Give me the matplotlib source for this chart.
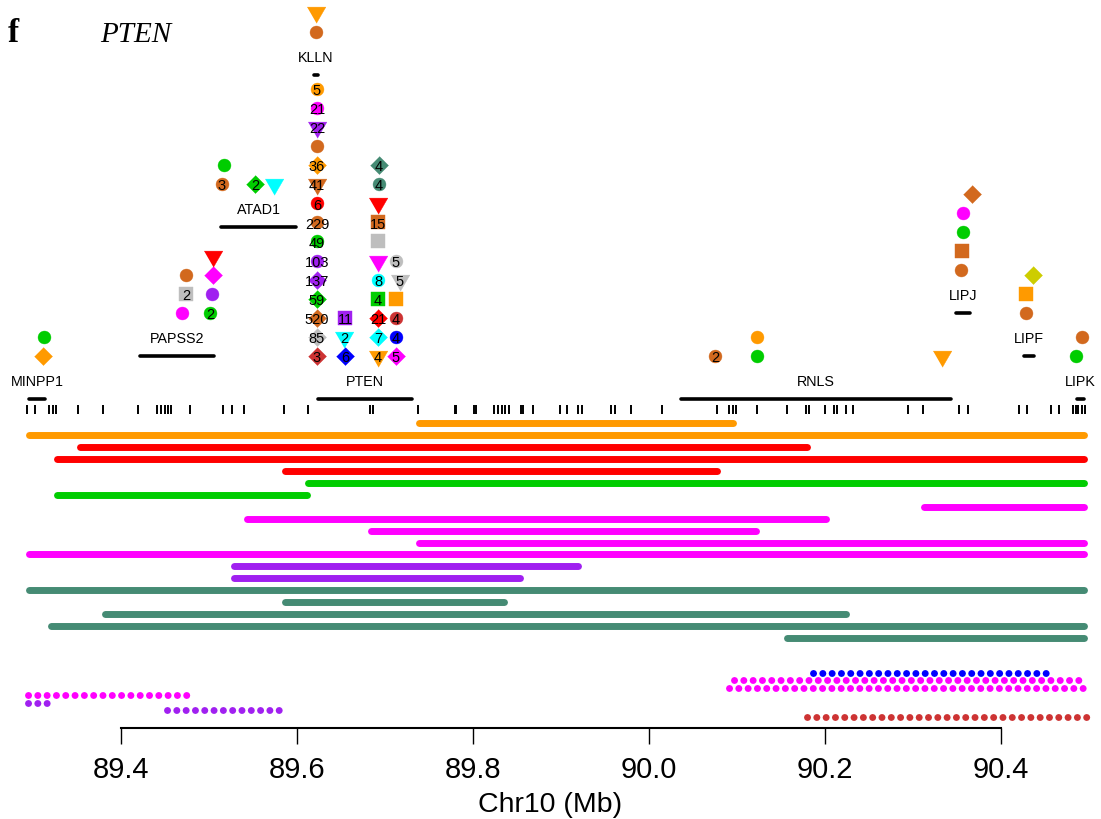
import matplotlib
matplotlib.use("Agg")
import matplotlib.pyplot as plt

plt.rcParams['font.family'] = ['Liberation Sans', 'DejaVu Sans']

# ---------------- data ----------------
gene_names = ["MINPP1", "PAPSS2", "ATAD1", "KLLN", "PTEN", "RNLS", "LIPJ", "LIPF", "LIPK"]
gene_start = [89.2951, 89.4213, 89.5134, 89.6195, 89.6236, 90.0361, 90.3486, 90.4259, 90.4861]
gene_end = [89.3139, 89.5060, 89.5991, 89.6235, 89.7310, 90.3435, 90.3650, 90.4378, 90.4946]

# markers: gene, position (Mb), stack level, colour, shape, count label
mk_gene = (["MINPP1"] * 2 + ["PAPSS2"] * 7 + ["ATAD1"] * 4 + ["KLLN"] * 2 +
           ["PTEN"] * 35 + ["RNLS"] * 4 + ["LIPJ"] * 5 + ["LIPF"] * 3 + ["LIPK"] * 2)
mk_pos = [89.3114, 89.3125,
          89.4693, 89.4739, 89.4739, 89.5011, 89.5034, 89.5045, 89.5045,
          89.5148, 89.5170, 89.5523, 89.5739,
          89.6216, 89.6216,
          89.6227, 89.6227, 89.6227, 89.6227, 89.6227, 89.6227, 89.6227, 89.6227,
          89.6227, 89.6227, 89.6227, 89.6227, 89.6227, 89.6227, 89.6227,
          89.6545, 89.6534, 89.6545,
          89.6920, 89.6920, 89.6920, 89.6920, 89.6920, 89.6920, 89.6920, 89.6920,
          89.6920, 89.6932, 89.6932,
          89.7125, 89.7125, 89.7125, 89.7125, 89.7170, 89.7125,
          90.0750, 90.1227, 90.1227, 90.3330,
          90.3545, 90.3557, 90.3568, 90.3568, 90.3670,
          90.4284, 90.4284, 90.4364,
          90.4852, 90.4920]
mk_level = [0, 1,
            0, 1, 2, 0, 1, 2, 3,
            0, 1, 0, 0,
            0, 1,
            0, 1, 2, 3, 4, 5, 6, 7, 8, 9, 10, 11, 12, 13, 14,
            0, 1, 2,
            0, 1, 2, 3, 4, 5, 6, 7, 8, 9, 10,
            0, 1, 2, 3, 4, 5,
            0, 0, 1, 0,
            0, 1, 2, 3, 4,
            0, 1, 2,
            0, 1]
mk_color = ["orange", "green",
            "magenta", "gray", "chocolate", "green", "purple", "magenta", "red",
            "chocolate", "green", "green", "cyan",
            "chocolate", "orange",
            "brown3", "gray", "chocolate", "green", "purple", "purple", "green", "chocolate",
            "red", "chocolate", "orange", "chocolate", "purple", "magenta", "orange",
            "blue", "cyan", "purple",
            "orange", "cyan", "red", "green", "cyan", "magenta", "gray", "chocolate",
            "red", "aquamarine4", "aquamarine4",
            "magenta", "blue", "brown3", "orange", "gray", "gray",
            "chocolate", "green", "orange", "orange",
            "chocolate", "chocolate", "green", "magenta", "chocolate",
            "chocolate", "orange", "yellow3",
            "green", "chocolate"]
mk_shape = ["D", "o",
            "o", "s", "o", "o", "o", "D", "v",
            "o", "o", "D", "v",
            "o", "v",
            "D", "D", "D", "D", "D", "o", "o", "o", "o", "v", "D", "o", "v", "o", "o",
            "D", "v", "s",
            "v", "D", "D", "s", "o", "v", "s", "s", "v", "o", "D",
            "D", "o", "o", "s", "v", "o",
            "o", "o", "o", "v",
            "o", "s", "o", "o", "D",
            "o", "s", "D",
            "o", "o"]
mk_label = ["", "",
            "", "2", "", "2", "", "", "",
            "3", "", "2", "",
            "", "",
            "3", "85", "520", "59", "137", "103", "49", "229", "6", "41", "36", "", "22", "21", "5",
            "6", "2", "11",
            "4", "7", "21", "4", "8", "", "", "15", "", "4", "4",
            "5", "4", "4", "", "5", "5",
            "2", "", "", "",
            "", "", "", "", "",
            "", "", "",
            "", ""]

# probe positions (Mb)
probe_pos = [89.293, 89.302, 89.318, 89.323, 89.326, 89.351, 89.380, 89.419, 89.441, 89.445,
             89.450, 89.453, 89.457, 89.478, 89.516, 89.526, 89.540, 89.585, 89.612, 89.683,
             89.686, 89.738, 89.780, 89.781, 89.801, 89.803, 89.824, 89.828, 89.833, 89.836,
             89.841, 89.855, 89.857, 89.868, 89.899, 89.907, 89.919, 89.924, 89.957, 89.961,
             89.980, 90.015, 90.077, 90.091, 90.095, 90.099, 90.123, 90.157, 90.178, 90.182,
             90.200, 90.210, 90.214, 90.224, 90.232, 90.294, 90.311, 90.352, 90.363, 90.421,
             90.429, 90.457, 90.466, 90.482, 90.485, 90.488, 90.492, 90.495]

# solid segments (top to bottom)
seg_start = [89.739, 89.296, 89.353, 89.327, 89.586, 89.613, 89.327, 90.313, 89.543, 89.684,
             89.739, 89.296, 89.528, 89.528, 89.296, 89.586, 89.382, 89.320, 90.157]
seg_end = [90.096, 90.494, 90.179, 90.494, 90.077, 90.494, 89.611, 90.494, 90.201, 90.122,
           90.494, 90.494, 89.919, 89.853, 90.494, 89.835, 90.224, 90.494, 90.494]
seg_color = ["orange", "orange", "red", "red", "red", "green", "green", "magenta", "magenta",
             "magenta", "magenta", "magenta", "purple", "purple", "aquamarine4", "aquamarine4",
             "aquamarine4", "aquamarine4", "aquamarine4"]

# dotted segments (top to bottom)
dot_start = [90.186, 90.097, 90.091, 89.294, 89.294, 89.452, 90.180]
dot_end = [90.450, 90.488, 90.493, 89.474, 89.316, 89.578, 90.495]
dot_color = ["blue", "magenta", "magenta", "magenta", "purple", "purple", "brown3"]

xticks = [89.4, 89.6, 89.8, 90.0, 90.2, 90.4]
xtick_labels = ["89.4", "89.6", "89.8", "90.0", "90.2", "90.4"]

# ---------------- style / layout ----------------
palette = {"orange": "#FF9A00", "green": "#00CD00", "red": "#FF0000", "magenta": "#FF00FF",
           "purple": "#A020F0", "aquamarine4": "#458B74", "chocolate": "#D2691E",
           "gray": "#BEBEBE", "cyan": "#00FFFF", "blue": "#0000FF", "brown3": "#CD3333",
           "yellow3": "#CDCD00"}
gene_y = {"MINPP1": 400, "PAPSS2": 357, "ATAD1": 228, "KLLN": 75.5, "PTEN": 400,
          "RNLS": 400, "LIPJ": 314, "LIPF": 357, "LIPK": 400}
tri = [(-1, 0.577), (1, 0.577), (0, -1.155)]
dia = [(0, 1), (1, 0), (0, -1), (-1, 0)]
shape_style = {"o": ("o", 9.3), "s": ("s", 9.9), "D": (dia, 12.9), "v": (tri, 15.5)}

fig = plt.figure(figsize=(11.01, 8.20), dpi=100)
ax = fig.add_axes([0, 0, 1, 1])
ax.set_xlim(89.2625, 90.51364)
ax.set_ylim(820, 0)
ax.patch.set_alpha(0)
for s in ["top", "left", "right"]:
    ax.spines[s].set_visible(False)
ax.spines["bottom"].set_position(("data", 729))
ax.spines["bottom"].set_bounds(89.4, 90.4)
ax.spines["bottom"].set_linewidth(1.5)
ax.set_yticks([])
ax.set_xticks(xticks)
ax.set_xticklabels(xtick_labels)
ax.tick_params(axis="x", direction="out", length=11.5, width=1.0, pad=8, labelsize=21)
ax.set_xlabel("Chr10 (Mb)", fontsize=20.5, labelpad=6)

# title
ax.text(89.2625 + 8 / 880, 42, "f", fontsize=24, fontweight="bold",
        family=["Liberation Serif", "DejaVu Serif"], ha="left", va="baseline")
ax.text(89.2625 + 100 / 880, 42, "PTEN", fontsize=21, style="italic",
        family=["Liberation Serif", "DejaVu Serif"], ha="left", va="baseline")

# genes
for name, s, e in zip(gene_names, gene_start, gene_end):
    y = gene_y[name]
    ax.plot([s, e], [y, y], color="black", lw=2.6, solid_capstyle="round")
    ax.text((s + e) / 2, y - 13.5, name, fontsize=10.3, ha="center", va="baseline")

# probes
ax.vlines(probe_pos, 406, 415, color="black", lw=1.4)

# solid segments
for i, (s, e, c) in enumerate(zip(seg_start, seg_end, seg_color)):
    y = 424 + 11.95 * i
    ax.plot([s, e], [y, y], color=palette[c], lw=5.0, solid_capstyle="round")

# dotted segments
for i, (s, e, c) in enumerate(zip(dot_start, dot_end, dot_color)):
    y = 674 + 7.4 * i
    ax.plot([s, e + 0.003], [y, y], color=palette[c], lw=5.0,
            linestyle=(0, (0.01, 1.33)), dash_capstyle="round")

# markers
for g, x, k, c, sh, lab in zip(mk_gene, mk_pos, mk_level, mk_color, mk_shape, mk_label):
    y = gene_y[g] - 43 - 19.1 * k
    m, ms = shape_style[sh]
    ax.plot([x], [y], linestyle="none", marker=m, ms=ms, mfc=palette[c], mec=palette[c],
            mew=0.3)
    if lab:
        ax.text(x, y + 5.3, lab, fontsize=10.5, ha="center", va="baseline", color="black")

fig.savefig("out.png", dpi=100)
